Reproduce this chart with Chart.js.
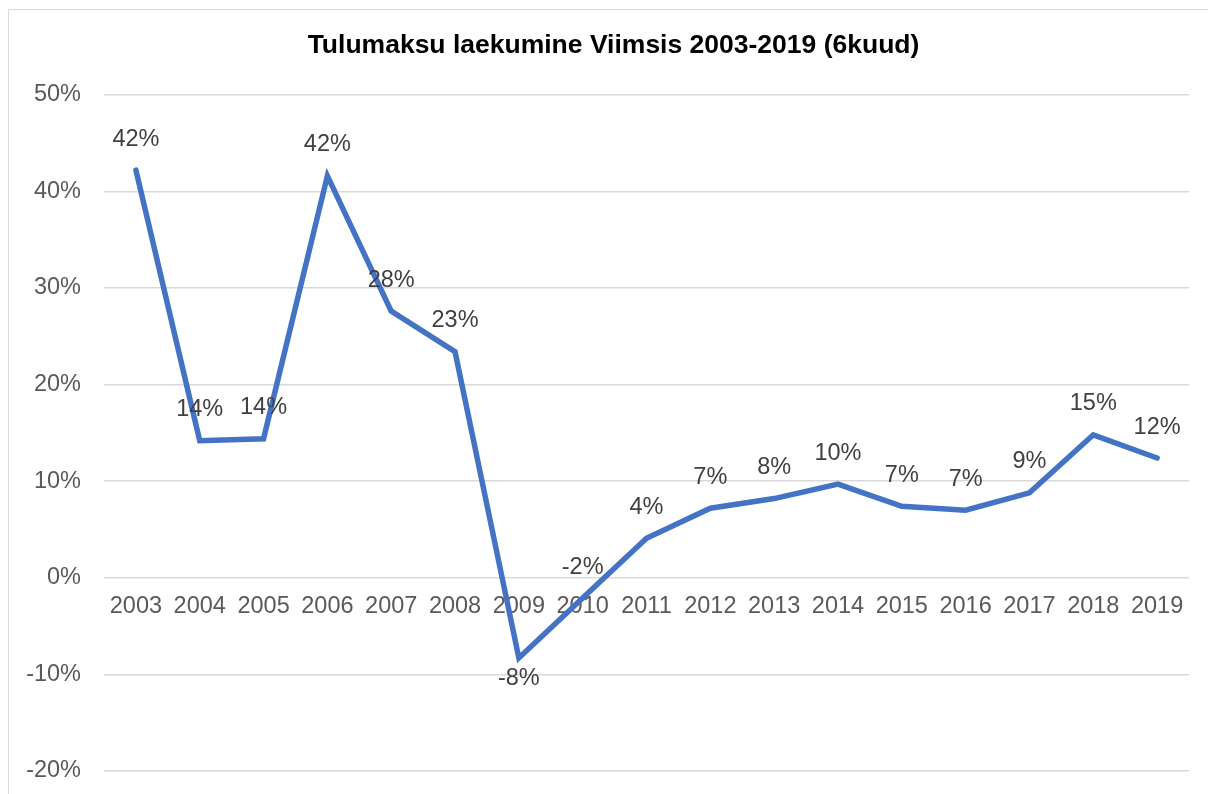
<!DOCTYPE html>
<html>
<head>
<meta charset="utf-8">
<script src="https://cdn.jsdelivr.net/npm/chart.js@4.4.1/dist/chart.umd.min.js"></script>
<style>
  html, body { margin: 0; padding: 0; background: #ffffff; overflow: hidden; }
  #frame { position: absolute; left: 8px; top: 9px; width: 1300px; height: 900px; border: 1.5px solid #d9d9d9; box-sizing: border-box; }
  #wrap { position: absolute; left: 0; top: 0; width: 1208px; height: 794px; }
</style>
</head>
<body>
<div id="frame"></div>
<div id="wrap"><canvas id="c"></canvas></div>
<script>
const chartTitle = 'Tulumaksu laekumine Viimsis 2003-2019 (6kuud)';
const years = ['2003','2004','2005','2006','2007','2008','2009','2010','2011','2012','2013','2014','2015','2016','2017','2018','2019'];
const growthPct = [42.2, 14.2, 14.4, 41.6, 27.6, 23.4, -8.3, -2.1, 4.1, 7.2, 8.2, 9.7, 7.4, 7.0, 8.8, 14.8, 12.4];
const yTickMin = -20;
const yTickMax = 50;
const yTickStep = 10;
const labelsBelow = ['2009'];

const FONT = '"Liberation Sans", Arial, sans-serif';

const dataLabelPlugin = {
  id: 'dataLabels',
  afterDatasetsDraw(chart) {
    const meta = chart.getDatasetMeta(0);
    const ctx = chart.ctx;
    ctx.save();
    ctx.font = '23.5px ' + FONT;
    ctx.fillStyle = '#404040';
    ctx.textAlign = 'center';
    ctx.textBaseline = 'middle';
    meta.data.forEach((pt, i) => {
      const v = chart.data.datasets[0].data[i];
      const below = labelsBelow.includes(chart.data.labels[i]);
      const y = below ? pt.y + 21 : pt.y - 31;
      ctx.fillText(Math.round(v) + '%', pt.x, y);
    });
    ctx.restore();
  }
};

// title spans the whole frame width (frame continues to the right edge)
const titleSpanPlugin = {
  id: 'titleSpan',
  afterLayout(chart) {
    if (chart.titleBlock) { chart.titleBlock.right = chart.width; }
  }
};

new Chart(document.getElementById('c'), {
  type: 'line',
  data: {
    labels: years,
    datasets: [{
      data: growthPct,
      borderColor: '#4472C4',
      borderWidth: 5.5,
      pointRadius: 0,
      pointHoverRadius: 0,
      tension: 0,
      borderJoinStyle: 'miter',
      borderCapStyle: 'round',
      fill: false
    }]
  },
  options: {
    responsive: true,
    maintainAspectRatio: false,
    animation: false,
    events: [],
    layout: { padding: { left: 19, right: 19, top: 0, bottom: 23 } },
    plugins: {
      legend: { display: false },
      tooltip: { enabled: false },
      title: {
        display: true,
        text: chartTitle,
        color: '#000000',
        font: { family: FONT, size: 26.5, weight: 'bold', lineHeight: 1.2 },
        padding: { top: 30, bottom: 33 }
      }
    },
    scales: {
      x: {
        position: { y: 0 },
        offset: true,
        grid: { display: false, drawTicks: false },
        border: { display: false },
        ticks: {
          color: '#595959',
          font: { family: FONT, size: 23.5 },
          padding: 15,
          maxRotation: 0,
          autoSkip: false
        },
        afterFit(axis) { axis.height = 0; }
      },
      y: {
        min: yTickMin,
        max: yTickMax,
        grid: { color: '#d9d9d9', lineWidth: 1.5, drawTicks: false },
        border: { display: false },
        ticks: {
          stepSize: yTickStep,
          color: '#595959',
          font: { family: FONT, size: 23.5 },
          padding: 23,
          callback: (v) => v + '%'
        },
        afterFit(axis) {
          axis.width = 85;
          axis.paddingTop = 0;
          axis.paddingBottom = 0;
        }
      }
    }
  },
  plugins: [dataLabelPlugin, titleSpanPlugin]
});
</script>
</body>
</html>
